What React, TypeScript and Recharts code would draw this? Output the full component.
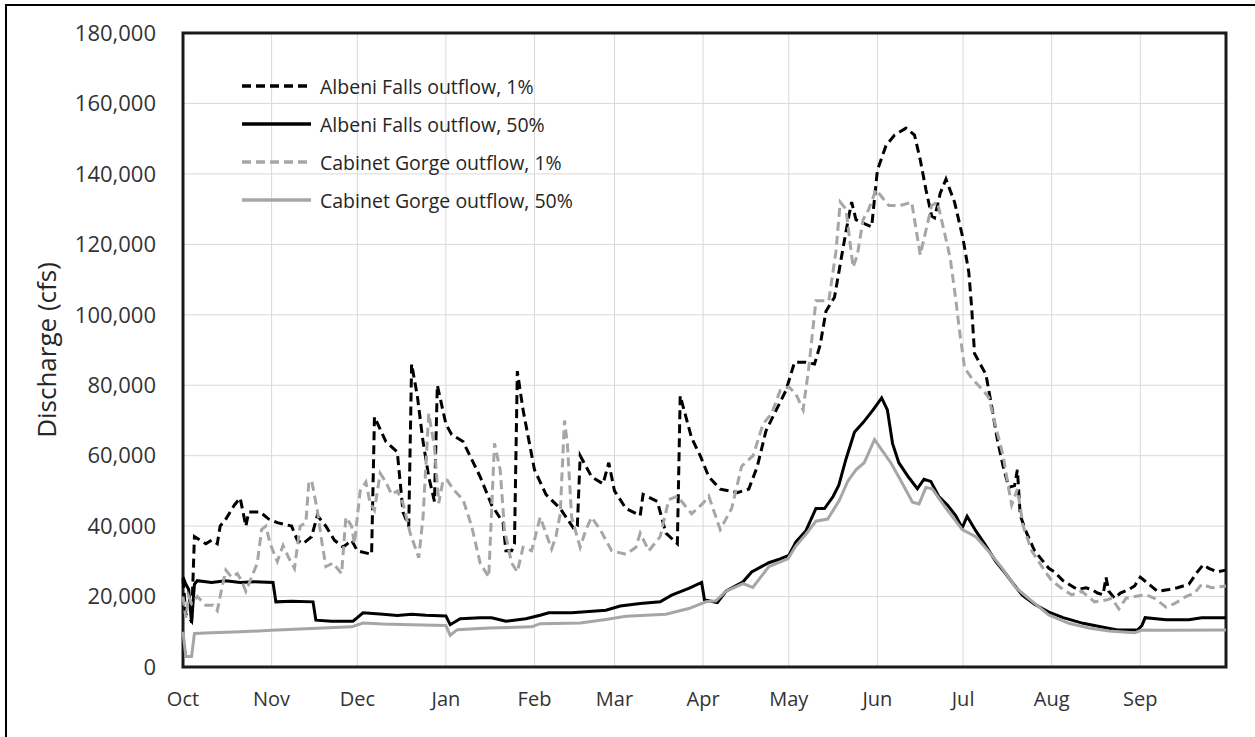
import { LineChart, Line, XAxis, YAxis, CartesianGrid, ReferenceArea } from 'recharts'

// water year, x = days since Oct 1
const monthStarts = [0, 31, 61, 92, 123, 151, 182, 212, 243, 273, 304, 335]
const monthLabels = ['Oct', 'Nov', 'Dec', 'Jan', 'Feb', 'Mar', 'Apr', 'May', 'Jun', 'Jul', 'Aug', 'Sep']
const flowTicks = [0, 20000, 40000, 60000, 80000, 100000, 120000, 140000, 160000, 180000]

// [day, discharge in 1000 cfs]
const albeniFalls1: [number, number][] = [
  [0, 25], [1, 15], [3, 13], [4, 37], [6, 36], [8, 35], [10, 36], [12, 35], [13, 40], [15, 42],
  [18, 46], [20, 48], [22, 40], [23, 44], [27, 44], [30, 42], [33, 41], [38, 40], [40, 36], [42, 35],
  [45, 37], [47, 43], [50, 40], [53, 36], [56, 34], [59, 36], [61, 33], [66, 32], [67, 71], [71, 64],
  [75, 61], [77, 44], [79, 40], [80, 86], [82, 77], [84, 64], [86, 54], [88, 47], [89, 80], [92, 69],
  [94, 66], [98, 64], [104, 54], [108, 46], [112, 41], [113, 33], [115, 33], [116, 35], [117, 84], [119, 73],
  [123, 56], [127, 49], [132, 45], [137, 39], [138, 40], [139, 60], [143, 54], [147, 52], [149, 58], [151, 50],
  [155, 45], [160, 43], [161, 49], [166, 47], [169, 38], [173, 35], [174, 77], [178, 65], [181, 60], [184, 54],
  [188, 50.5], [194, 49.5], [198, 50.5], [201, 57], [204, 67], [207, 72], [211, 78.5], [214, 86.5], [218, 86.5], [221, 86],
  [223, 91.5], [225, 101], [228, 105], [231, 119], [233, 128], [234, 132], [235.5, 127], [238, 126], [241, 125], [243, 141],
  [246, 148], [249, 151], [253, 153], [256, 151], [258, 144], [260, 135.5], [262, 128], [263, 127.5], [265, 134.5], [267, 138.5],
  [270, 132], [273, 121.5], [275, 112], [276, 102], [277, 89], [279, 86], [281, 83], [283, 74], [285, 64.5], [287, 57],
  [289, 51], [291, 51.5], [292, 56], [293, 43], [295, 38.5], [298, 33], [301, 30], [303, 28], [305, 27], [308, 24.5],
  [310, 23.5], [313, 22], [316, 22.5], [318, 22], [320, 21], [322, 20.5], [323, 25.5], [324, 21.5], [326, 19.5], [328, 21],
  [331, 22], [333, 23], [335, 25.5], [338, 23.5], [341, 21.5], [345, 22], [348, 22.5], [352, 23.5], [355, 27], [357, 29],
  [359, 28], [362, 27], [365, 27.5],
]

const albeniFalls50: [number, number][] = [
  [0, 25.5], [1, 23.5], [2, 22], [3, 12.5], [4, 23.5], [5, 24.5], [10, 24], [15, 24.5], [20, 24], [25, 24.2],
  [31.5, 24], [32.5, 18.5], [38, 18.7], [45.5, 18.5], [46.5, 13.3], [52, 13], [59.5, 13], [61, 14], [63, 15.4], [70, 15],
  [75, 14.6], [80, 15], [85, 14.7], [92, 14.5], [93.5, 12], [97, 13.7], [104, 14], [108, 14], [113, 13], [120, 13.7],
  [125, 14.7], [128, 15.4], [136, 15.4], [148, 16.1], [153, 17.3], [160, 18], [167, 18.5], [171, 20.4], [177, 22.3], [181.5, 24],
  [182.5, 19], [187, 18.3], [190, 21.5], [196, 24.2], [199, 27], [205, 29.6], [209, 30.7], [212, 31.7], [214.5, 35.5], [218, 38.7],
  [221.5, 45], [224.5, 45], [227.5, 48.4], [229.5, 51.6], [232, 59], [235, 66.7], [238, 69.4], [241.5, 73], [244.5, 76.4], [246.5, 73],
  [248.3, 63.5], [250.5, 58], [254, 53.8], [257, 50.6], [259.3, 53.3], [261.7, 52.7], [264.5, 48.4], [267.5, 46], [270.4, 43], [272.7, 39.5],
  [274.4, 42.8], [277.4, 38.7], [281, 34.4], [284.4, 30], [288, 26.4], [290, 24.2], [293.7, 20.4], [298, 17.8], [303, 15.6], [308, 14],
  [315, 12.4], [322, 11.3], [327, 10.5], [334, 10.5], [335.6, 11.8], [336.7, 14], [344, 13.4], [352, 13.4], [356.5, 14], [365, 14],
]

const cabinetGorge1: [number, number][] = [
  [0, 20], [1, 14], [2, 20], [3, 18], [5, 20], [8, 17.5], [10.5, 17.5], [12, 16], [13.5, 22], [15, 27.5],
  [17, 25.5], [19, 26.5], [20.5, 24.5], [22, 21.5], [24, 25.5], [26, 29.5], [27.5, 39], [29, 40], [30.5, 35], [33, 30],
  [35, 34.5], [37, 31], [39, 28], [41, 40], [43, 41], [44, 52], [45, 53], [47, 44.5], [48.5, 36], [50, 28.5],
  [52.5, 29.5], [55.5, 26.5], [57, 42.5], [59, 40], [60, 35], [62, 50], [64, 52.5], [65.5, 46.5], [67, 44.5], [69, 55],
  [71, 52.5], [73, 49], [75, 50], [77, 46.5], [79.5, 38], [82.5, 31], [84, 42.5], [86, 72], [88, 62.5], [89.5, 46.5],
  [91, 53], [92.5, 53], [94.5, 50.5], [98, 47.5], [101, 40], [104, 29.5], [107, 25.5], [109, 63.5], [111, 56], [112.5, 39],
  [115, 29.5], [117, 27], [119, 34], [122, 33], [125, 42.5], [127, 38], [129, 33.5], [130.5, 37], [132, 43.5], [133.5, 70],
  [134.5, 63.5], [136, 42.5], [139, 34], [141, 39], [143, 42.5], [146, 39], [150, 33], [155, 32], [158.5, 34], [160, 38],
  [163, 33], [167, 37], [170, 47.5], [173, 48.5], [178, 43.5], [182, 46.5], [184, 48.5], [188, 39], [192, 45], [195.5, 57],
  [199.5, 60], [203, 69], [206, 72], [209, 78.5], [212, 79.5], [214.5, 77.5], [217, 73], [219, 85], [221.5, 104], [224, 104],
  [226, 104], [228.5, 118], [230, 132], [232, 130], [234.5, 113.5], [236, 117], [238, 127], [240, 130], [242.5, 135.5], [245, 133],
  [247, 131], [251, 131], [255, 132], [258, 117], [260, 124], [262, 131], [264, 132], [267, 121.5], [268.5, 116], [270.5, 104],
  [271.5, 97], [273.5, 85], [276, 82], [280, 78.5], [282, 76.5], [284.5, 68], [287, 60], [289, 50.5], [290, 46], [292, 50.5],
  [294, 40], [297, 33], [301, 28], [304, 24.5], [308, 22], [311, 20.5], [314.5, 21.5], [319, 18.5], [323, 19], [325, 19.5],
  [327.5, 16.5], [330, 19.5], [333, 20], [337, 20.5], [340, 19.5], [344, 17], [347, 18], [351, 20], [354, 21], [356.5, 23.5],
  [360, 22.5], [365, 23],
]

const cabinetGorge50: [number, number][] = [
  [0, 10], [1, 3], [3, 3], [4, 9.5], [10, 9.7], [20, 10], [31, 10.4], [45, 10.9], [59, 11.4], [63, 12.5],
  [70, 12.2], [80, 12], [92, 11.8], [93.5, 9], [96, 10.6], [107, 11.1], [122, 11.4], [125, 12.3], [139, 12.5], [148, 13.5],
  [155, 14.4], [169, 15], [177, 16.6], [183, 18.5], [186.5, 18.8], [190, 21.5], [196, 23.7], [199.4, 22.6], [205, 28.5], [211.7, 30.7],
  [214.5, 34.4], [218, 37.7], [221.5, 41.4], [225.6, 42], [229.7, 47.3], [232.6, 52.7], [235.5, 56], [238.4, 58], [242, 64.6], [244.2, 62],
  [247.7, 58], [250.6, 53.8], [255.3, 46.8], [257.6, 46.3], [260, 51], [262.2, 50.6], [266.9, 45.2], [272.7, 39], [277.4, 37], [282, 32.8],
  [286.7, 28], [291.4, 22.6], [296, 19.4], [303, 14.8], [310, 12.4], [317, 11.1], [324, 10.2], [333, 9.7], [335.6, 10.5], [343.7, 10.4],
  [365, 10.5],
]

const FONT = '"Open Sans", sans-serif'
const GRAY = '#a6a6a6'

const toPoints = (rows: [number, number][]) => rows.map(([day, k]) => ({ day, cfs: k * 1000 }))

const series = [
  { name: 'Albeni Falls outflow, 1%', data: toPoints(albeniFalls1), color: '#000000', dash: '9 5' },
  { name: 'Albeni Falls outflow, 50%', data: toPoints(albeniFalls50), color: '#000000', dash: undefined },
  { name: 'Cabinet Gorge outflow, 1%', data: toPoints(cabinetGorge1), color: GRAY, dash: '9 5' },
  { name: 'Cabinet Gorge outflow, 50%', data: toPoints(cabinetGorge50), color: GRAY, dash: undefined },
]

const LegendBox = () => (
  <div style={{ position: 'absolute', left: 242, top: 67, fontFamily: FONT, fontSize: 19.5, color: '#262626' }}>
    {series.map(s => (
      <div key={s.name} style={{ display: 'flex', alignItems: 'center', height: 38 }}>
        <svg width={70} height={8}>
          <line x1={0} y1={4} x2={69} y2={4} stroke={s.color} strokeWidth={3.5} strokeDasharray={s.dash} />
        </svg>
        <span style={{ marginLeft: 8, whiteSpace: 'nowrap' }}>{s.name}</span>
      </div>
    ))}
  </div>
)

const YTitle = ({ viewBox }: any) => {
  const cx = viewBox.x + 13
  const cy = viewBox.y + viewBox.height / 2
  return (
    <text x={cx} y={cy} transform={`rotate(-90 ${cx} ${cy})`} textAnchor="middle" dominantBaseline="central"
      fontFamily={FONT} fontSize={26} fill="#262626">
      Discharge (cfs)
    </text>
  )
}

export default function App() {
  return (
    <div style={{ position: 'absolute', left: 0, top: 0, width: 1255, height: 737, background: '#fff' }}>
      <div style={{ position: 'absolute', left: 5, top: 4, right: 0, bottom: 0, borderLeft: '2px solid #000', borderTop: '2px solid #000' }} />
      <LineChart width={1255} height={737} margin={{ top: 33, right: 29, bottom: 30, left: 33 }}>
        <CartesianGrid stroke="#d9d9d9" strokeWidth={1} />
        <XAxis
          dataKey="day"
          type="number"
          domain={[0, 365]}
          ticks={monthStarts}
          tickFormatter={(d: number) => monthLabels[monthStarts.indexOf(d)]}
          axisLine={false}
          tickLine={false}
          tickSize={0}
          tickMargin={25}
          height={40}
          interval={0}
          tick={{ fill: '#333', fontSize: 20, fontFamily: FONT }}
        />
        <YAxis
          type="number"
          domain={[0, 180000]}
          ticks={flowTicks}
          tickFormatter={(v: number) => v.toLocaleString('en-US')}
          axisLine={false}
          tickLine={false}
          tickSize={0}
          tickMargin={27}
          width={150}
          interval={0}
          tick={{ fill: '#333', fontSize: 22, fontFamily: FONT }}
          label={<YTitle />}
        />
        {series.map(s => (
          <Line
            key={s.name}
            data={s.data}
            dataKey="cfs"
            name={s.name}
            type="linear"
            stroke={s.color}
            strokeWidth={3}
            strokeDasharray={s.dash}
            dot={false}
            activeDot={false}
            isAnimationActive={false}
          />
        ))}
        <ReferenceArea x1={0} x2={365} y1={0} y2={180000} fill="none" fillOpacity={0} stroke="#1a1a1a" strokeWidth={3} />
      </LineChart>
      <LegendBox />
    </div>
  )
}
